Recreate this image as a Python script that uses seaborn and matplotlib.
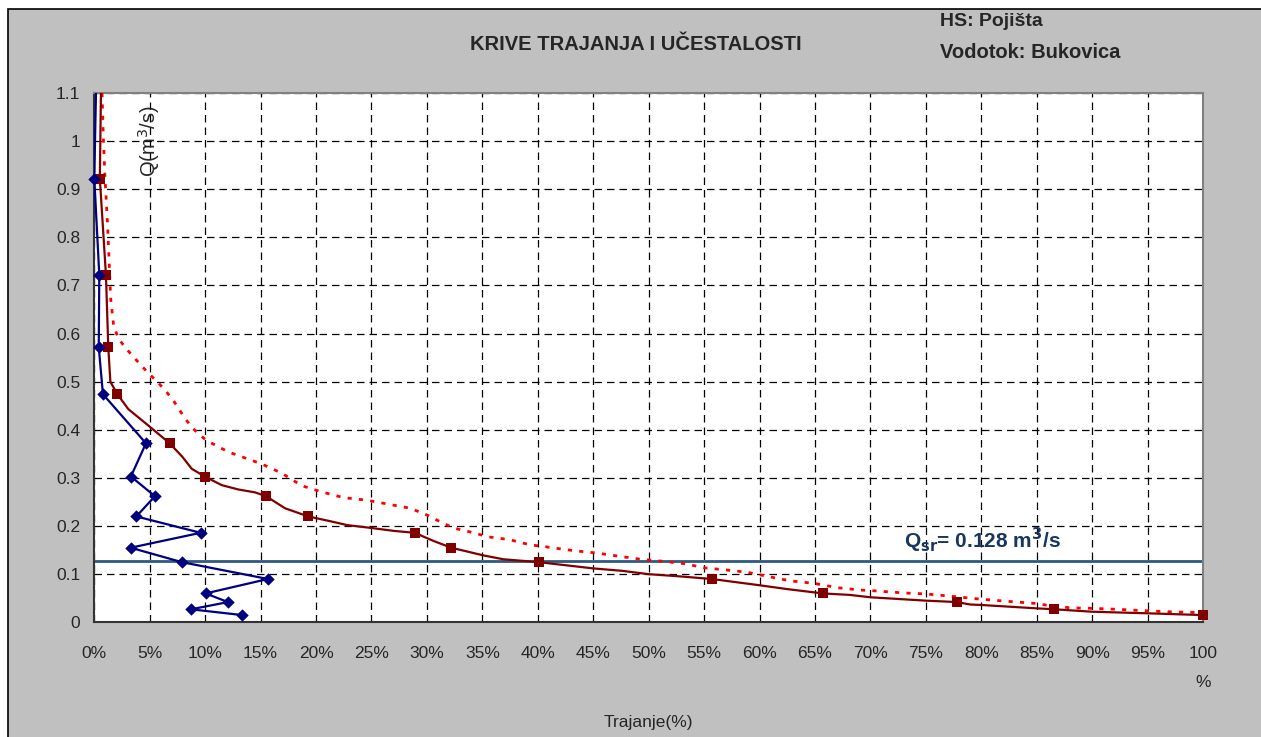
import matplotlib
matplotlib.use("Agg")
import matplotlib.pyplot as plt
from matplotlib.patches import Rectangle
import seaborn as sns

# class discharge values (m3/s) - shared by the frequency and duration markers
q_class = [0.922, 0.722, 0.572, 0.474, 0.372, 0.303, 0.262, 0.220, 0.186, 0.155,
           0.125, 0.090, 0.060, 0.042, 0.027, 0.015]
# frequency (%) per class - blue diamonds
freq = [0.0, 0.45, 0.4, 0.78, 4.66, 3.3, 5.47, 3.79, 9.59, 3.28,
        7.9, 15.66, 10.04, 12.06, 8.72, 13.35]
# duration (%) at class values - dark red squares
dur_mark = [0.5, 1.05, 1.26, 2.08, 6.8, 9.95, 15.5, 19.3, 28.9, 32.2,
            40.1, 55.7, 65.7, 77.8, 86.6, 100.0]

# blue frequency line continues to top of chart
freq_line_x = [0.15] + freq
freq_line_q = [1.1] + q_class

# full duration curve (solid dark red)
dur_x = [0.6, 0.5, 1.05, 1.26, 1.45, 2.08, 3.07, 4.87, 6.8, 7.94, 8.79, 9.96, 11.5,
         13.0, 14.5, 15.5, 17.2, 19.3, 21.3, 22.8, 25.0, 27.0, 28.9, 30.6, 32.2,
         35.1, 36.9, 40.1, 45.0, 47.6, 50.0, 52.5, 55.7, 60.0, 62.5, 65.7, 68.1,
         70.0, 75.0, 76.9, 77.8, 79.0, 80.0, 85.0, 86.6, 90.0, 95.0, 100.0]
dur_q = [1.1, 0.922, 0.722, 0.572, 0.500, 0.474, 0.443, 0.409, 0.372, 0.344, 0.319,
         0.303, 0.285, 0.276, 0.270, 0.262, 0.237, 0.220, 0.210, 0.202, 0.196, 0.190,
         0.186, 0.169, 0.155, 0.139, 0.131, 0.125, 0.112, 0.107, 0.100, 0.096, 0.090,
         0.077, 0.069, 0.060, 0.057, 0.052, 0.045, 0.043, 0.042, 0.037, 0.036, 0.029,
         0.027, 0.022, 0.0187, 0.015]

# dotted red curve
dot_x = [0.7, 0.81, 0.97, 1.17, 1.33, 1.48, 1.75, 2.2, 2.9, 4.1, 4.87, 5.63, 6.4,
         7.13, 8.2, 8.93, 10.1, 12.1, 13.3, 15.1, 16.9, 18.7, 19.8, 20.5, 22.5, 24.5,
         26.4, 28.5, 30.0, 31.2, 32.4, 34.4, 35.4, 37.4, 39.3, 40.4, 41.3, 43.2, 45.3,
         47.1, 49.3, 51.2, 53.2, 55.1, 56.9, 58.9, 60.8, 62.8, 64.9, 67.0, 69.1, 70.0,
         73.0, 75.0, 77.8, 80.0, 82.7, 85.0, 86.3, 88.1, 90.0, 92.3, 94.8, 96.8, 100.0]
dot_q = [1.1, 1.011, 0.921, 0.838, 0.755, 0.672, 0.615, 0.589, 0.568, 0.537, 0.518,
         0.501, 0.482, 0.461, 0.423, 0.402, 0.378, 0.354, 0.344, 0.329, 0.310, 0.284,
         0.276, 0.271, 0.259, 0.254, 0.246, 0.237, 0.223, 0.209, 0.196, 0.185, 0.178,
         0.172, 0.161, 0.158, 0.155, 0.149, 0.144, 0.138, 0.131, 0.127, 0.122, 0.113,
         0.109, 0.104, 0.095, 0.086, 0.081, 0.072, 0.067, 0.066, 0.061, 0.059, 0.053,
         0.048, 0.043, 0.039, 0.034, 0.030, 0.029, 0.027, 0.024, 0.022, 0.020]

q_sr = 0.128
x_ticks = list(range(0, 101, 5))
x_labels = [f"{v}%" for v in x_ticks[:-1]] + ["100\n%"]
y_ticks = [i / 10 for i in range(12)]

sns.set_style("white")
plt.rcParams['font.family'] = ['Liberation Sans', 'DejaVu Sans']

fig = plt.figure(figsize=(12.61, 7.37), dpi=100, facecolor="white")
# grey chart area with black border
fig.patches.append(Rectangle((8 / 1261, -0.01), 1.1, 1 - 9 / 737 + 0.01,
                             transform=fig.transFigure, facecolor="#C0C0C0",
                             edgecolor="black", lw=1.2, zorder=-10))

ax = fig.add_axes([94.3 / 1261, 1 - 622.3 / 737, (1203 - 94.3) / 1261, (622.3 - 93) / 737])
ax.set_facecolor("white")

ax.axhline(q_sr, color="#2E5A80", lw=2, zorder=2)

sns.lineplot(x=dot_x, y=dot_q, sort=False, estimator=None, ax=ax, color="#FF0000",
             lw=2.0, linestyle=(0, (1.5, 2.6)), zorder=3)
sns.lineplot(x=dur_x, y=dur_q, sort=False, estimator=None, ax=ax, color="#800000",
             lw=1.6, zorder=4)
sns.scatterplot(x=dur_mark, y=q_class, ax=ax, marker="s", s=55, color="#800000",
                edgecolor="#800000", linewidth=0, zorder=5, clip_on=False)
sns.lineplot(x=freq_line_x, y=freq_line_q, sort=False, estimator=None, ax=ax,
             color="#000080", lw=1.6, zorder=4)
sns.scatterplot(x=freq, y=q_class, ax=ax, marker="D", s=40, color="#000080",
                edgecolor="#000080", linewidth=0, zorder=5, clip_on=False)

ax.set_xlim(0, 100)
ax.set_ylim(0, 1.1)
ax.set_xticks(x_ticks)
ax.set_xticklabels(x_labels, fontsize=12.5, linespacing=2.2, va="top")
ax.set_yticks(y_ticks)
ax.set_yticklabels([f"{v:g}" for v in y_ticks], fontsize=12.5)
ax.tick_params(axis="both", direction="out", length=6, width=1, color="black")
ax.tick_params(axis="x", pad=11)
ax.tick_params(axis="y", pad=4)
ax.grid(True, color="black", lw=0.9, linestyle=(0, (6, 4)))
ax.set_axisbelow(True)

for s in ["left", "bottom"]:
    ax.spines[s].set_color("#333333")
    ax.spines[s].set_linewidth(1.5)
for s in ["top", "right"]:
    ax.spines[s].set_color("#808080")
    ax.spines[s].set_linewidth(1.5)

ax.set_xlabel("Trajanje(%)", fontsize=12.5, labelpad=18)
ax.legend_ = None

ax.text(0.049, 0.91, "Q(m$^3$/s)", transform=ax.transAxes, rotation=90,
        ha="center", va="center", fontsize=14.5)
ax.text(80.1, q_sr + 0.011, "Q$_{\\mathbf{sr}}$= 0.128 m$^{\\mathbf{3}}$/s", ha="center",
        va="bottom", fontsize=15, fontweight="bold", color="#17375E")

fig.text(636 / 1261, 1 - 44 / 737, "KRIVE TRAJANJA I UČESTALOSTI", ha="center",
         va="center", fontsize=14.5, fontweight="bold")
fig.text(940 / 1261, 1 - 22 / 737, "HS: Pojišta", ha="left", va="center",
         fontsize=14, fontweight="bold")
fig.text(940 / 1261, 1 - 53 / 737, "Vodotok: Bukovica", ha="left", va="center",
         fontsize=14.5, fontweight="bold")

fig.savefig("out.png", dpi=100, facecolor=fig.get_facecolor())
